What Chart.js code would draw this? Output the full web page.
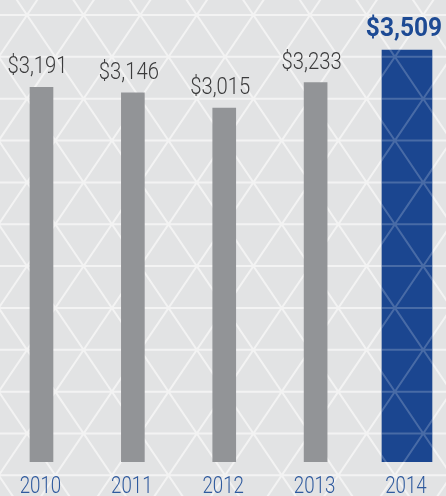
<!DOCTYPE html>
<html>
<head>
<meta charset="utf-8">
<script src="https://cdn.jsdelivr.net/npm/chart.js@4.4.1/dist/chart.umd.min.js"></script>
<style>
  html, body { margin: 0; padding: 0; background: #e2e3e4; }
  #wrap { width: 446px; height: 496px; }
</style>
</head>
<body>
<div id="wrap"><canvas id="chart" width="446" height="496"></canvas></div>
<script>
const categories = ["2010", "2011", "2012", "2013", "2014"];
const values = [3191, 3146, 3015, 3233, 3509];
const valueLabels = ["$3,191", "$3,146", "$3,015", "$3,233", "$3,509"];
const highlightIndex = 4;

// triangle pattern behind the bars
function drawPattern(ctx, w, h, color) {
  const rowH = 41.85, colW = 56.6, x0 = 27, y0 = 15;
  ctx.save();
  ctx.strokeStyle = color;
  ctx.lineWidth = 2;
  ctx.beginPath();
  for (let k = -2; k < 16; k++) {
    const y = y0 + k * rowH;
    ctx.moveTo(-10, y);
    ctx.lineTo(w + 10, y);
  }
  const dx = (colW / 2) / rowH;
  for (let n = -20; n < 30; n++) {
    const x = x0 + n * colW;
    ctx.moveTo(x - (y0 + 20) * dx, -20);
    ctx.lineTo(x + (h + 20 - y0) * dx, h + 20);
    ctx.moveTo(x + (y0 + 20) * dx, -20);
    ctx.lineTo(x - (h + 20 - y0) * dx, h + 20);
  }
  ctx.stroke();
  ctx.restore();
}

function drawText(ctx, text, x, y, font, color, sx) {
  ctx.save();
  ctx.font = font;
  ctx.fillStyle = color;
  ctx.textAlign = "center";
  ctx.textBaseline = "alphabetic";
  ctx.translate(x, y);
  ctx.scale(sx, 1);
  ctx.fillText(text, 0, 0);
  ctx.restore();
}

const backgroundPlugin = {
  id: "bgPattern",
  beforeDraw(chart) {
    const ctx = chart.ctx;
    ctx.save();
    ctx.fillStyle = "#e2e3e4";
    ctx.fillRect(0, 0, chart.width, chart.height);
    ctx.restore();
    drawPattern(ctx, chart.width, chart.height, "#f3f3f3");
  },
};

const labelPlugin = {
  id: "barLabels",
  afterDatasetsDraw(chart) {
    const ctx = chart.ctx;
    // faint pattern over the highlighted bar
    const hb = chart.getDatasetMeta(1).data[highlightIndex];
    if (hb) {
      ctx.save();
      ctx.beginPath();
      ctx.rect(hb.x - hb.width / 2, hb.y, hb.width, hb.base - hb.y);
      ctx.clip();
      drawPattern(ctx, chart.width, chart.height, "rgba(255,255,255,0.2)");
      ctx.restore();
    }
    categories.forEach((cat, i) => {
      const meta = chart.getDatasetMeta(i === highlightIndex ? 1 : 0);
      const bar = meta.data[i];
      if (!bar) return;
      if (i === highlightIndex) {
        drawText(ctx, valueLabels[i], bar.x - 3, bar.y - 14, "700 25px Roboto", "#1d4a94", 0.98);
      } else {
        drawText(ctx, valueLabels[i], bar.x - 4, bar.y - 14, "300 23px Roboto", "#3b3b3c", 0.88);
      }
      drawText(ctx, cat, bar.x - 1, 493, "300 24px Roboto", "#2f5a9e", 0.78);
    });
  },
};

const ctx = document.getElementById("chart").getContext("2d");
const chart = new Chart(ctx, {
  type: "bar",
  data: {
    datasets: [
      {
        label: "Gray",
        data: values.map((v, i) => ({ x: i, y: i === highlightIndex ? null : v })),
        backgroundColor: "#929497",
        barThickness: 23,
        grouped: false,
      },
      {
        label: "Highlight",
        data: values.map((v, i) => ({ x: i, y: i === highlightIndex ? v : null })),
        backgroundColor: "#1b4690",
        barThickness: 50,
        grouped: false,
      },
    ],
  },
  options: {
    responsive: false,
    animation: false,
    layout: { padding: { top: 0, bottom: 34, left: 0, right: 0 } },
    plugins: {
      legend: { display: false },
      tooltip: { enabled: false },
    },
    scales: {
      x: { type: "linear", min: -0.454, max: 4.427, offset: false, display: false },
      y: { min: 0, max: 3936, display: false },
    },
  },
  plugins: [backgroundPlugin, labelPlugin],
});
</script>
</body>
</html>
